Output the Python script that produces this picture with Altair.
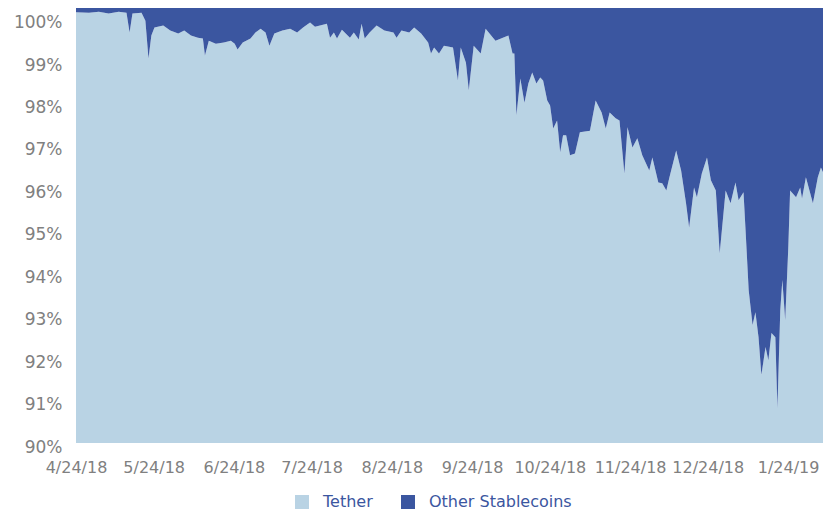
import altair as alt
import pandas as pd

# ---- data ----
start_date = "2018-04-24"
end_date = "2019-02-06T12:00:00"

# days after 4/24/18 of each reading
day_offset = [
    0.0, 5.0, 8.8, 12.6, 16.5, 19.5, 20.7, 21.8, 25.3, 26.8, 28.0, 29.1, 30.3, 33.7, 36.4,
    39.5, 41.8, 44.4, 47.1, 49.0, 49.8, 51.3, 54.0, 57.1, 59.8, 61.3, 62.4, 64.4, 67.4, 69.3,
    71.3, 73.2, 74.7, 76.6, 79.7, 82.7, 85.4, 87.7, 90.4, 92.3, 96.9, 98.1, 99.6, 100.8, 102.7,
    105.8, 107.3, 109.2, 110.3, 111.5, 113.4, 116.1, 119.1, 122.6, 123.8, 125.7, 128.7, 130.6, 133.3, 136.0,
    137.1, 138.3, 140.2, 142.1, 145.6, 147.5, 148.6, 150.6, 151.7, 153.6, 156.3, 158.2, 162.0, 167.0, 168.6,
    169.3, 170.1, 171.6, 173.2, 174.7, 176.2, 177.8, 179.3, 180.4, 182.0, 183.1, 184.3, 185.8, 187.0, 188.1,
    189.3, 190.8, 192.7, 194.6, 198.5, 200.7, 203.0, 204.6, 206.1, 208.4, 209.9, 211.8, 213.0, 214.9, 216.8,
    218.7, 221.4, 222.6, 224.9, 226.4, 228.0, 229.1, 231.8, 233.7, 235.6, 236.8, 238.7, 239.8, 241.7, 243.7,
    245.2, 247.1, 248.6, 250.9, 252.8, 254.7, 255.9, 257.8, 258.6, 259.8, 261.3, 262.4, 263.6, 264.7, 266.3,
    267.4, 268.6, 270.1, 270.9, 272.0, 272.8, 273.9, 275.1, 275.8, 278.1, 279.7, 280.4, 281.9, 284.6, 286.5,
    287.7, 288.5,
]

# Tether share (%) at each reading
tether_pct = [
    100.15, 100.14, 100.16, 100.12, 100.16, 100.14, 99.67, 100.12, 100.14, 99.95, 99.06, 99.60, 99.79, 99.84, 99.72,
    99.65, 99.72, 99.60, 99.55, 99.53, 99.13, 99.48, 99.41, 99.44, 99.48, 99.41, 99.27, 99.44, 99.53, 99.67,
    99.76, 99.67, 99.36, 99.65, 99.72, 99.76, 99.67, 99.79, 99.91, 99.81, 99.88, 99.55, 99.67, 99.53, 99.74,
    99.55, 99.67, 99.51, 99.88, 99.53, 99.67, 99.84, 99.72, 99.67, 99.55, 99.72, 99.67, 99.79, 99.65, 99.44,
    99.18, 99.32, 99.18, 99.36, 99.32, 98.54, 99.32, 98.96, 98.31, 99.36, 99.18, 99.76, 99.48, 99.60, 99.18,
    99.18, 97.72, 98.59, 98.02, 98.47, 98.73, 98.47, 98.61, 98.54, 98.07, 97.95, 97.41, 97.60, 96.85, 97.25,
    97.25, 96.78, 96.82, 97.32, 97.36, 98.07, 97.79, 97.41, 97.79, 97.65, 97.60, 96.35, 97.44, 96.96, 97.18,
    96.78, 96.42, 96.73, 96.14, 96.12, 95.95, 96.24, 96.89, 96.42, 95.65, 95.08, 96.02, 95.79, 96.35, 96.73,
    96.19, 95.95, 94.47, 95.95, 95.65, 96.14, 95.72, 95.91, 95.01, 93.60, 92.78, 93.08, 92.49, 91.60, 92.26,
    91.95, 92.59, 92.49, 90.82, 93.13, 93.84, 92.89, 94.61, 95.95, 95.79, 96.02, 95.76, 96.26, 95.65, 96.26,
    96.49, 96.38,
]

axis_min = 90.0
axis_max = 100.25  # top edge of the plotted band, as read
y_ticks = [90, 91, 92, 93, 94, 95, 96, 97, 98, 99, 100]
x_ticks = ["2018-04-24", "2018-05-24", "2018-06-24", "2018-07-24", "2018-08-24",
           "2018-09-24", "2018-10-24", "2018-11-24", "2018-12-24", "2019-01-24"]
series_names = ["Tether", "Other Stablecoins"]
series_colors = ["#b9d3e4", "#3b56a0"]

# ---- build table ----
dates = pd.Timestamp(start_date) + pd.to_timedelta(day_offset, unit="D")
rows = []
for d, t in zip(dates, tether_pct):
    rows.append({"date": d, "series": "Tether", "low": axis_min, "high": t})
    rows.append({"date": d, "series": "Other Stablecoins", "low": t, "high": axis_max})
df = pd.DataFrame(rows)


def to_dt(s):
    ts = pd.Timestamp(s)
    return alt.DateTime(year=ts.year, month=ts.month, date=ts.day, hours=ts.hour)


label_font = "DejaVu Sans"

chart = (
    alt.Chart(df)
    .mark_area(clip=True, opacity=1, interpolate="linear")
    .encode(
        x=alt.X(
            "date:T",
            title=None,
            scale=alt.Scale(domain=[to_dt(start_date), to_dt(end_date)]),
            axis=alt.Axis(
                values=[to_dt(s) for s in x_ticks],
                format="%-m/%d/%y",
                labelFont=label_font,
                labelFontSize=16,
                labelColor="#808080",
                labelPadding=16,
                labelOverlap=False,
                labelFlush=False,
                ticks=False,
                domain=False,
                grid=False,
            ),
        ),
        y=alt.Y(
            "high:Q",
            title=None,
            scale=alt.Scale(domain=[axis_min, axis_max], nice=False, zero=False),
            axis=alt.Axis(
                values=y_ticks,
                labelExpr="datum.value + '%'",
                labelFont=label_font,
                labelFontSize=17,
                labelColor="#808080",
                labelPadding=14,
                labelOffset=4,
                labelFlush=False,
                ticks=False,
                domain=False,
                grid=False,
            ),
        ),
        y2="low:Q",
        color=alt.Color(
            "series:N",
            sort=series_names,
            scale=alt.Scale(domain=series_names, range=series_colors),
            legend=alt.Legend(
                title=None,
                orient="none",
                legendX=218,
                legendY=486,
                direction="horizontal",
                symbolType="square",
                symbolSize=196,
                symbolStrokeWidth=0,
                symbolOpacity=1,
                labelFont=label_font,
                labelFontSize=16,
                labelColor="#3b56a0",
                labelOffset=13,
                columnPadding=27,
            ),
        ),
    )
    .properties(
        width=747,
        height=435,
        padding={"left": 68, "top": 0, "right": 0, "bottom": 68},
        autosize=alt.AutoSizeParams(type="none"),
    )
    .configure_view(strokeWidth=0)
)

chart.save("out.html", embed_options={"renderer": "svg", "actions": False})
